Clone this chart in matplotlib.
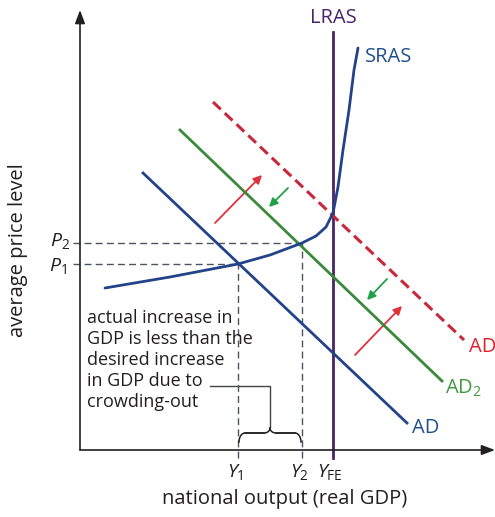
import numpy as np
import matplotlib.pyplot as plt
from matplotlib.patches import FancyArrowPatch

plt.rcParams['font.family'] = ['Open Sans', 'DejaVu Sans']
plt.rcParams['mathtext.fontset'] = 'custom'
plt.rcParams['mathtext.rm'] = 'Open Sans'
plt.rcParams['mathtext.it'] = 'Open Sans:italic'

# curve data (output, price level)
ad_x = [6.3, 32.7]
ad_y = [27.7, 2.7]
ad2_x = [10.0, 36.2]
ad2_y = [32.0, 6.9]
ad3_x = [13.3, 38.4]
ad3_y = [34.8, 11.0]
sras_x = [2.5, 9.0, 15.8, 19.0, 22.2, 23.6, 24.6, 25.3, 25.8, 26.3, 26.9, 27.4, 27.8]
sras_y = [16.2, 17.3, 18.6, 19.5, 20.7, 21.4, 22.3, 23.7, 26.3, 30.0, 34.0, 38.0, 40.2]
lras_x = 25.3
lras_top = 41.8

p_vals = [20.7, 18.6]       # P2, P1
y_vals = [15.8, 22.2]       # Y1, Y2

# shift arrows: (x0, y0, x1, y1)
red_arrows = [(13.5, 22.7, 18.2, 27.5), (27.5, 9.5, 32.2, 14.4)]
green_arrows = [(20.8, 26.2, 18.9, 24.3), (30.7, 17.1, 28.7, 15.0)]

blue = '#22428a'
green = '#3b8a3b'
red = '#c8283c'
purple = '#4a2466'
ink = '#231f20'

fig = plt.figure(figsize=(4.95, 5.17), dpi=100)
ax = fig.add_axes([80 / 495, 67 / 517, 415 / 495, 440 / 517])
ax.set_xlim(0, 41.5)
ax.set_ylim(0, 44)
ax.axis('off')

# axes with arrows
ax.annotate('', xy=(41.5, 0), xytext=(0, 0),
            arrowprops=dict(arrowstyle='-|>,head_length=0.8,head_width=0.3', color=ink, lw=1.2,
                            shrinkA=0, shrinkB=0), annotation_clip=False)
ax.annotate('', xy=(0, 44), xytext=(0, 0),
            arrowprops=dict(arrowstyle='-|>,head_length=0.8,head_width=0.3', color=ink, lw=1.2,
                            shrinkA=0, shrinkB=0), annotation_clip=False)

# guide lines
dash = dict(color='#4a5560', lw=1.0, ls=(0, (5, 3)), clip_on=False)
ax.plot([-0.7, y_vals[1]], [p_vals[0], p_vals[0]], **dash)
ax.plot([-0.7, y_vals[0]], [p_vals[1], p_vals[1]], **dash)
ax.plot([y_vals[0], y_vals[0]], [-0.8, p_vals[1]], **dash)
ax.plot([y_vals[1], y_vals[1]], [-0.8, p_vals[0]], **dash)

# curves
ax.plot([lras_x, lras_x], [-0.8, lras_top], color=purple, lw=2.0, clip_on=False)
ax.plot(ad_x, ad_y, color=blue, lw=2.0)
ax.plot(ad2_x, ad2_y, color=green, lw=2.0)
ax.plot(ad3_x, ad3_y, color=red, lw=2.2, ls=(0, (3.5, 1.8)))
ax.plot(sras_x, sras_y, color=blue, lw=2.0, solid_capstyle='round', solid_joinstyle='round')

for x0, y0, x1, y1 in red_arrows:
    ax.add_patch(FancyArrowPatch((x0, y0), (x1, y1), arrowstyle='-|>,head_length=5,head_width=2.5',
                                 color='#e0303c', lw=1.3, shrinkA=0, shrinkB=0))
for x0, y0, x1, y1 in green_arrows:
    ax.add_patch(FancyArrowPatch((x0, y0), (x1, y1), arrowstyle='-|>,head_length=5,head_width=2.5',
                                 color='#21a04a', lw=1.3, shrinkA=0, shrinkB=0))

# labels on curves
fs = 14.5
ax.text(lras_x, 43.2, 'LRAS', color=purple, fontsize=fs, ha='center', va='center')
ax.text(28.5, 39.3, 'SRAS', color='#1f4e8c', fontsize=fs, ha='left', va='center')
ax.text(38.9, 10.3, 'AD', color='#e0202e', fontsize=fs, ha='left', va='center')
ax.text(36.5, 6.2, r'AD$_2$', color='#3f9a3f', fontsize=fs, ha='left', va='center')
ax.text(33.2, 2.2, 'AD', color='#1f4e8c', fontsize=fs, ha='left', va='center')

# tick labels
ax.text(-1.0, p_vals[0] + 0.2, r'$\mathit{P}_2$', fontsize=14, ha='right', va='center', color=ink)
ax.text(-1.3, p_vals[1] - 0.2, r'$\mathit{P}_1$', fontsize=14, ha='right', va='center', color=ink)
for xv, lab in zip(y_vals + [lras_x], [r'$\mathit{Y}_1$', r'$\mathit{Y}_2$', r'$\mathit{Y}_{\rm FE}$']):
    ax.text(xv - 0.3, -1.2, lab, fontsize=14, ha='center', va='top', color=ink)

fig.text(285 / 495, 1 - 499 / 517, 'national output (real GDP)', fontsize=14.5, ha='center', va='center', color=ink)
fig.text(18 / 495, 1 - 250 / 517, 'average price level', fontsize=14.5, rotation=90, ha='center', va='center', color=ink)

# annotation about crowding out
note = 'actual increase in\nGDP is less than the\ndesired increase\nin GDP due to\ncrowding-out'
ax.text(0.7, 14.1, note, fontsize=13, ha='left', va='top', color=ink, linespacing=1.22)
ax.plot([13.0, 19.0, 19.0], [6.4, 6.4, 2.3], color='#444444', lw=1.0)

# curly brace between Y1 and Y2
bx0, bx1 = y_vals[0] + 0.1, y_vals[1] - 0.1
bm = (bx0 + bx1) / 2
t = np.linspace(0, 1, 30)
left = np.concatenate([
    np.column_stack([bx0 + 0.6 * (1 - np.cos(t * np.pi / 2)), 0.8 + 0.9 * np.sin(t * np.pi / 2)]),
    np.column_stack([bm - 0.6 + 0.6 * np.sin(t * np.pi / 2), 1.7 + 0.5 * (1 - np.cos(t * np.pi / 2))])])
ax.plot(left[:, 0], left[:, 1], color=ink, lw=1.1)
ax.plot(2 * bm - left[:, 0], left[:, 1], color=ink, lw=1.1)
ax.plot([bx0 + 0.6, bm - 0.6], [1.7, 1.7], color=ink, lw=1.1)
ax.plot([bm + 0.6, bx1 - 0.6], [1.7, 1.7], color=ink, lw=1.1)

fig.savefig('out.png', dpi=100)
